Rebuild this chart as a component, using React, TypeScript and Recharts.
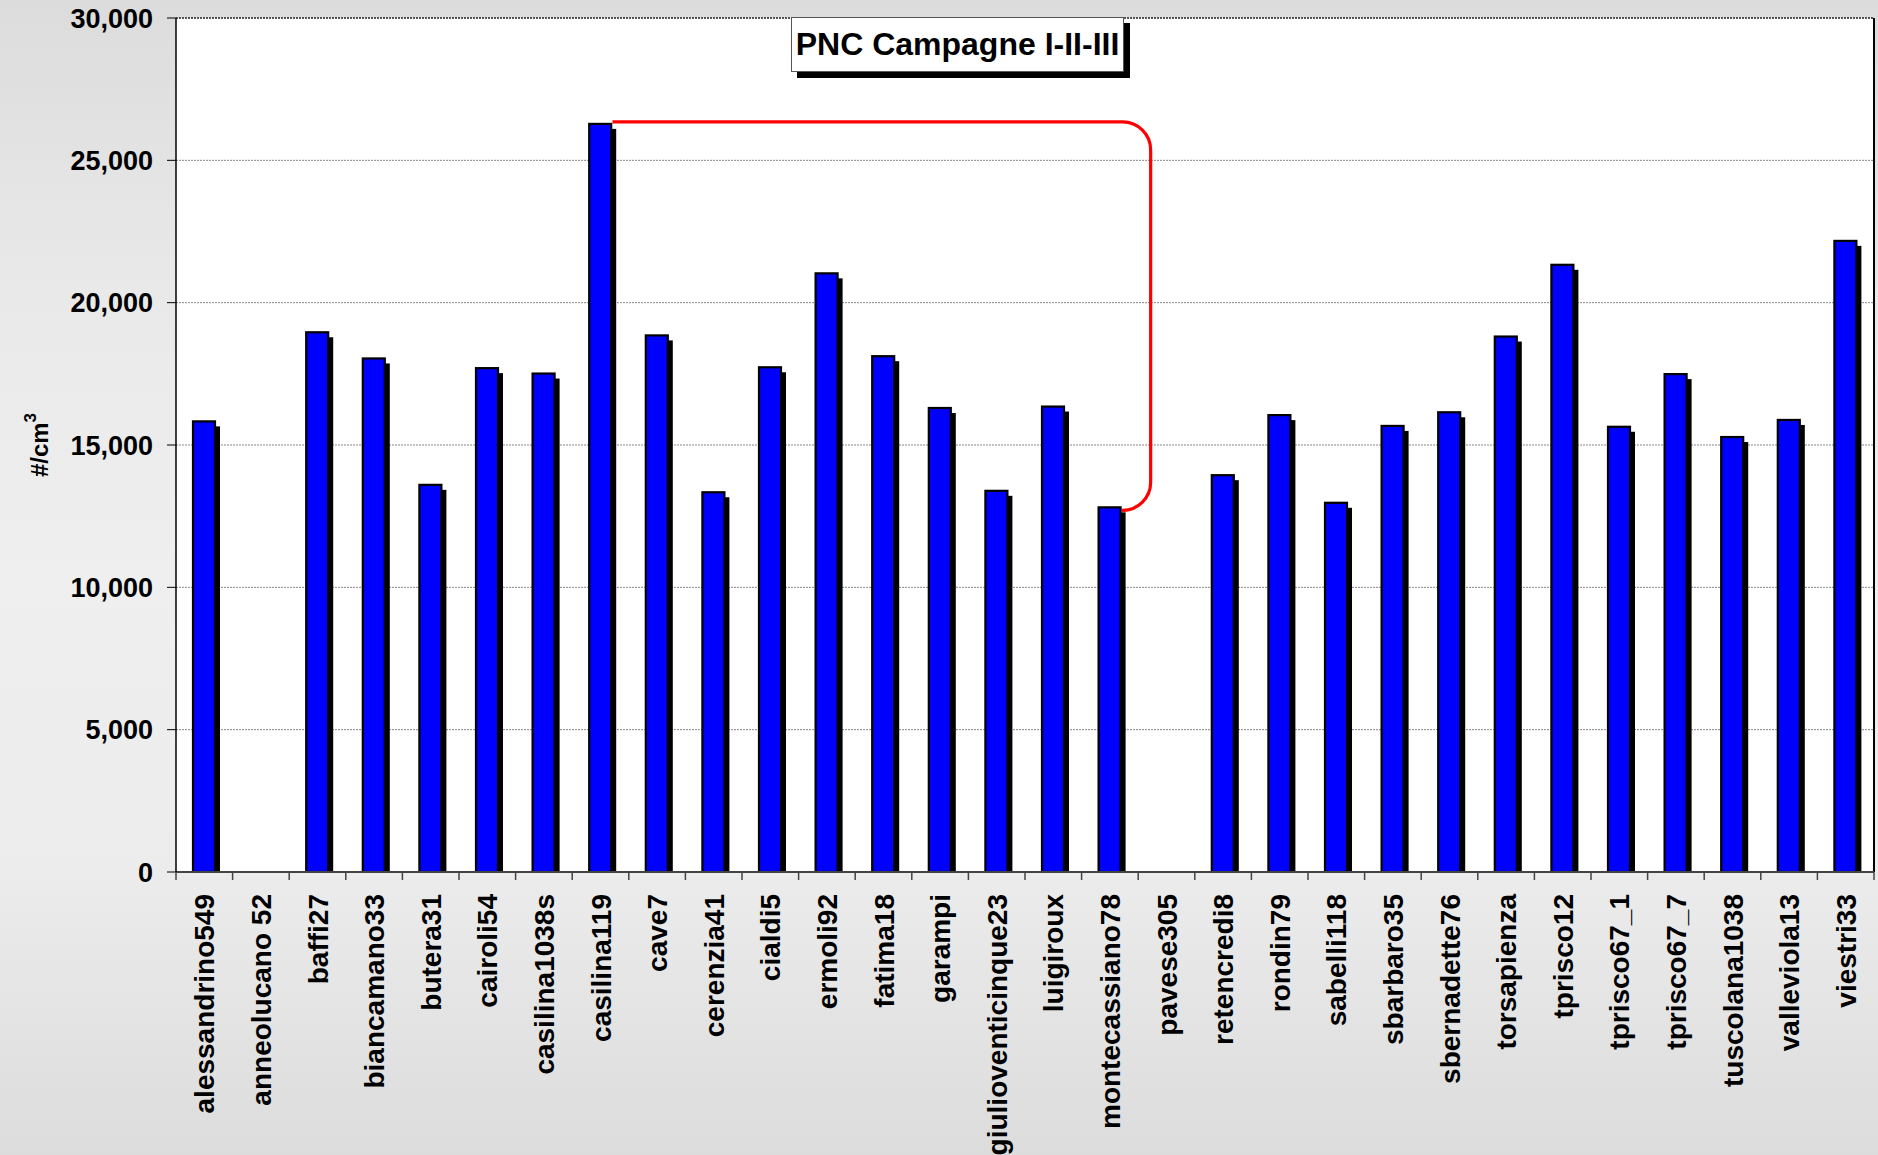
import React from 'react';
import { BarChart, Bar, XAxis, YAxis, CartesianGrid, ReferenceArea } from 'recharts';

// ---- data ----
const sites: string[] = [
  'alessandrino549', 'anneolucano 52', 'baffi27', 'biancamano33', 'butera31', 'cairoli54',
  'casilina1038s', 'casilina119', 'cave7', 'cerenzia41', 'cialdi5', 'ermoli92', 'fatima18',
  'garampi', 'giulioventicinque23', 'luigiroux', 'montecassiano78', 'pavese305', 'retencredi8',
  'rondin79', 'sabelli118', 'sbarbaro35', 'sbernadette76', 'torsapienza', 'tprisco12',
  'tprisco67_1', 'tprisco67_7', 'tuscolana1038', 'valleviola13', 'viestri33',
];
const pncValues: (number | null)[] = [
  15830, null, 18960, 18040, 13600, 17700,
  17510, 26280, 18850, 13340, 17730, 21030, 18120,
  16300, 13390, 16350, 12810, null, 13940,
  16050, 12970, 15670, 16150, 18810, 21330,
  15640, 17490, 15280, 15880, 22170,
];
const yTicks: number[] = [0, 5000, 10000, 15000, 20000, 25000, 30000];
const chartTitle = 'PNC Campagne I-II-III';
const yAxisLabel = '#/cm';
const yAxisLabelSup = '3';
const bracketFrom = 'casilina119';
const bracketTo = 'montecassiano78';

const data = sites.map((site, i) => ({ site, pnc: pncValues[i] }));

const W = 1878;
const H = 1155;
const FONT = '"Liberation Sans", Arial, Helvetica, sans-serif';
const BAR_SIZE = 22;

const ShadowBar = (props: any) => {
  const { x, y, width, height } = props;
  if (height == null || height <= 0 || x == null) return null;
  const off = 5;
  return (
    <g>
      <rect x={x + off} y={y + off} width={width} height={Math.max(0, height - off)} fill="#000" />
      <rect x={x} y={y} width={width} height={height} fill="#0000ff" stroke="#000" strokeWidth={2.2} />
    </g>
  );
};

const XTick = (props: any) => {
  const { x, y, payload, index, visibleTicksCount, width } = props;
  const half = payload && payload.offset ? payload.offset : (width / visibleTicksCount) / 2;
  const isLast = index === visibleTicksCount - 1;
  return (
    <g>
      <line x1={x - half} y1={y} x2={x - half} y2={y + 8} stroke="#444" strokeWidth={1.5} />
      {isLast && <line x1={x + half} y1={y} x2={x + half} y2={y + 8} stroke="#444" strokeWidth={1.5} />}
      <text
        transform={`translate(${x},${y + 22}) rotate(-90)`}
        textAnchor="end"
        dy="0.36em"
        fontSize={28}
        fontWeight={700}
        fill="#000"
        fontFamily={FONT}
      >
        {payload.value}
      </text>
    </g>
  );
};

const PlotBorder = (props: any) => {
  const { x, y, width, height } = props;
  return (
    <g>
      <line x1={x} y1={y} x2={x + width} y2={y} stroke="#555" strokeWidth={2} strokeDasharray="2 1" />
      <line x1={x + width} y1={y} x2={x + width} y2={y + height} stroke="#000" strokeWidth={2} />
    </g>
  );
};

const Bracket = (props: any) => {
  const { x, y, width, height } = props;
  const n = sites.indexOf(bracketTo) - sites.indexOf(bracketFrom) + 1;
  const band = width / n;
  const startX = x + band / 2 + BAR_SIZE / 2 + 1;
  const endX = startX + (n - 1) * band;
  const vx = x + width + band * 0.22;
  const top = y - 2;
  const bot = y + height + 3;
  const r = 28;
  const d = `M ${startX} ${top} H ${vx - r} A ${r} ${r} 0 0 1 ${vx} ${top + r} V ${bot - r} A ${r} ${r} 0 0 1 ${vx - r} ${bot} H ${Math.min(endX, vx - r)}`;
  return <path d={d} fill="none" stroke="#ff0000" strokeWidth={3.2} />;
};

const YLabel = (props: any) => {
  const vb = props.viewBox || { x: 0, y: 18, width: 176, height: 854 };
  const cx = vb.x + 48;
  const cy = vb.y + vb.height / 2;
  return (
    <text
      transform={`translate(${cx},${cy}) rotate(-90)`}
      textAnchor="middle"
      fontSize={24}
      fontWeight={700}
      fill="#000"
      fontFamily={FONT}
    >
      {yAxisLabel}
      <tspan dy={-12} fontSize={17}>{yAxisLabelSup}</tspan>
    </text>
  );
};

const fromVal = pncValues[sites.indexOf(bracketFrom)] as number;
const toVal = pncValues[sites.indexOf(bracketTo)] as number;

export default function App() {
  return (
    <div
      style={{
        position: 'absolute',
        left: 0,
        top: 0,
        width: W,
        height: H,
        overflow: 'hidden',
        fontFamily: FONT,
        background: 'linear-gradient(to bottom, #dcdcdc 0%, #e9e9e9 25%, #efefef 50%, #ececec 75%, #dcdcdc 100%)',
      }}
    >
      <BarChart
        width={W}
        height={H}
        data={data}
        margin={{ top: 18, right: 4, bottom: 0, left: 0 }}
        barSize={BAR_SIZE}
      >
        <CartesianGrid
          vertical={false}
          fill="#ffffff"
          fillOpacity={1}
          stroke="#888"
          strokeDasharray="2 1"
        />
        <XAxis
          dataKey="site"
          interval={0}
          height={283}
          tickLine={false}
          tickSize={0}
          tickMargin={0}
          axisLine={{ stroke: '#444', strokeWidth: 2 }}
          tick={<XTick />}
        />
        <YAxis
          width={176}
          domain={[0, 30000]}
          ticks={yTicks}
          allowDataOverflow
          interval={0}
          tickSize={9}
          tickMargin={14}
          tickLine={{ stroke: '#000' }}
          axisLine={{ stroke: '#000', strokeWidth: 1.5 }}
          tickFormatter={(v: number) => v.toLocaleString('en-US')}
          tick={{ fontSize: 27, fontWeight: 700, fill: '#000', fontFamily: FONT }}
          label={<YLabel />}
        />
        <Bar dataKey="pnc" shape={<ShadowBar />} isAnimationActive={false} />
        <ReferenceArea y1={0} y2={30000} shape={<PlotBorder />} ifOverflow="visible" />
        <ReferenceArea
          x1={bracketFrom}
          x2={bracketTo}
          y1={toVal}
          y2={fromVal}
          shape={<Bracket />}
          ifOverflow="visible"
        />
      </BarChart>
      <div
        style={{
          position: 'absolute',
          left: 791,
          top: 17,
          width: 333,
          height: 55,
          boxSizing: 'border-box',
          border: '1px solid #555',
          background: '#fff',
          boxShadow: '6px 6px 0 #000',
          fontSize: 32,
          fontWeight: 700,
          lineHeight: '53px',
          textAlign: 'center',
          whiteSpace: 'nowrap',
          color: '#000',
        }}
      >
        {chartTitle}
      </div>
    </div>
  );
}
